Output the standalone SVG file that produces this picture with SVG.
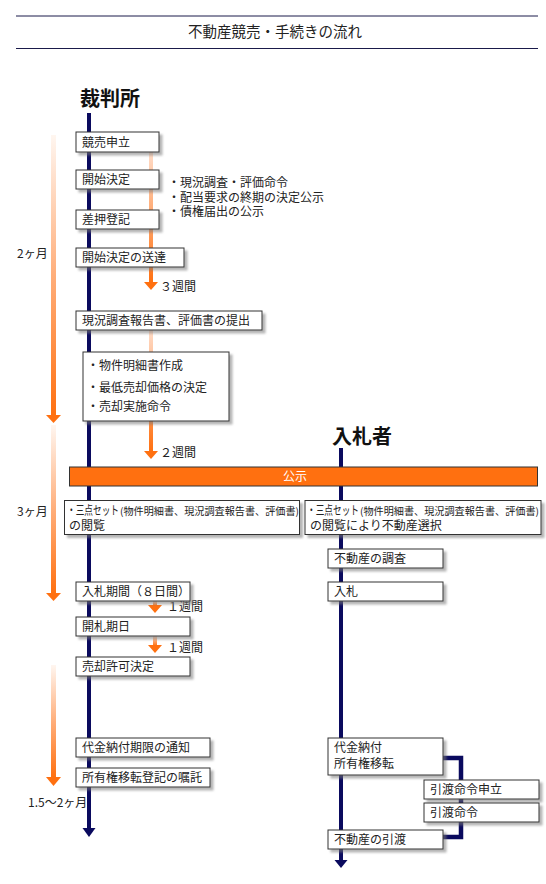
<svg xmlns="http://www.w3.org/2000/svg" width="546" height="884" viewBox="0 0 546 884">
<defs>
<style>
text{font-family:"Noto Sans CJK JP","Noto Sans CJK SC",sans-serif;fill:#222;font-size:12px}
.h{font-size:20px;font-weight:bold;fill:#111}
.t{font-size:14.5px}
.box{fill:#fff;stroke:#333;stroke-width:1;filter:url(#sh)}
.navy{fill:#0a0a5e}
.or{fill:#ff7010}
.sm{font-size:10px}
</style>
<filter id="sh" x="-10%" y="-20%" width="130%" height="160%">
<feDropShadow dx="3" dy="3" stdDeviation="1" flood-color="#777" flood-opacity="0.55"/>
</filter>
<linearGradient id="gl" x1="0" y1="0" x2="0" y2="1">
<stop offset="0" stop-color="#fff6f0"/>
<stop offset="0.5" stop-color="#ffae7a"/>
<stop offset="1" stop-color="#ff7010"/>
</linearGradient>
<linearGradient id="gs" x1="0" y1="0" x2="0" y2="1">
<stop offset="0" stop-color="#ffdcc8"/>
<stop offset="1" stop-color="#ff7010"/>
</linearGradient>
</defs>
<rect width="546" height="884" fill="#fff"/>

<g id="title">
<line x1="16" y1="16" x2="538" y2="16" stroke="#1a1a4a" stroke-width="1"/>
<line x1="16" y1="48.5" x2="538" y2="48.5" stroke="#1a1a4a" stroke-width="1"/>
<text class="t" x="275" y="37" text-anchor="middle">不動産競売・手続きの流れ</text>
</g>

<g id="connectors">
<rect class="navy" x="87" y="113" width="4" height="716"/>
<polygon class="navy" points="82.5,828 95.5,828 89,837"/>
<rect class="navy" x="339" y="448" width="4" height="413"/>
<polygon class="navy" points="334.5,860 347.5,860 341,868"/>
<path d="M443 758 H461 V837 H443" fill="none" stroke="#0a0a5e" stroke-width="4.5"/>
<rect x="51" y="135" width="5" height="281" fill="url(#gl)"/>
<polygon class="or" points="46,415 61,415 53.5,423"/>
<rect x="51" y="425" width="5" height="169" fill="url(#gl)"/>
<polygon class="or" points="46,593 61,593 53.5,601"/>
<rect x="51" y="665" width="5" height="113" fill="url(#gl)"/>
<polygon class="or" points="46,777 61,777 53.5,786"/>
<rect x="149" y="152" width="4" height="131" fill="url(#gs)"/>
<polygon class="or" points="144,282 158,282 151,290"/>
<rect x="149" y="329" width="4" height="123" fill="url(#gs)"/>
<polygon class="or" points="144,451 158,451 151,459"/>
<rect x="153" y="601" width="4" height="5" fill="url(#gs)"/>
<polygon class="or" points="148,605 162,605 155,613"/>
<rect x="153" y="636" width="4" height="10" fill="url(#gs)"/>
<polygon class="or" points="148,645 162,645 155,653"/>
</g>

<g id="labels">
<text class="h" x="80" y="106">裁判所</text>
<text class="h" x="332" y="444">入札者</text>
<text x="17" y="258">2ヶ月</text>
<text x="17" y="516">3ヶ月</text>
<text x="28" y="807">1.5～2ヶ月</text>
<text x="160" y="291">３週間</text>
<text x="160" y="457">２週間</text>
<text x="167" y="611">１週間</text>
<text x="167" y="652">１週間</text>
<text x="168" y="187">・現況調査・評価命令<tspan x="168" y="202">・配当要求の終期の決定公示</tspan><tspan x="168" y="216">・債権届出の公示</tspan></text>
</g>

<g id="n1"><rect class="box" x="76" y="132" width="83" height="20"/><text x="82" y="146.5">競売申立</text></g>
<g id="n2"><rect class="box" x="76" y="170" width="83" height="19"/><text x="82" y="184">開始決定</text></g>
<g id="n3"><rect class="box" x="76" y="210" width="83" height="19"/><text x="82" y="224">差押登記</text></g>
<g id="n4"><rect class="box" x="76" y="248" width="108" height="19"/><text x="82" y="262">開始決定の送達</text></g>
<g id="n5"><rect class="box" x="76" y="311" width="186" height="19"/><text x="82" y="325">現況調査報告書、評価書の提出</text></g>
<g id="n6"><rect class="box" x="83" y="352" width="146" height="69"/>
<text x="87" y="370">・物件明細書作成<tspan x="87" y="392">・最低売却価格の決定</tspan><tspan x="87" y="411">・売却実施命令</tspan></text></g>

<g id="koji"><rect x="69.5" y="467" width="468" height="19" fill="#ff7010" stroke="#333" stroke-width="1"/><text x="295" y="481" text-anchor="middle" style="fill:#fff">公示</text></g>

<g id="n7"><rect class="box" x="64.5" y="500.5" width="235" height="34"/>
<text x="67" y="515"><tspan textLength="52" lengthAdjust="spacingAndGlyphs">・三点セット</tspan><tspan class="sm" x="120" textLength="179" lengthAdjust="spacingAndGlyphs">(物件明細書、現況調査報告書、評価書)</tspan><tspan x="69" y="530">の閲覧</tspan></text></g>
<g id="n8"><rect class="box" x="305" y="500.5" width="236" height="34"/>
<text x="307" y="515"><tspan textLength="52" lengthAdjust="spacingAndGlyphs">・三点セット</tspan><tspan class="sm" x="360" textLength="179" lengthAdjust="spacingAndGlyphs">(物件明細書、現況調査報告書、評価書)</tspan><tspan x="310" y="530">の閲覧により不動産選択</tspan></text></g>

<g id="n9"><rect class="box" x="328" y="549" width="115" height="19"/><text x="334" y="563">不動産の調査</text></g>
<g id="n10"><rect class="box" x="328" y="582" width="115" height="19"/><text x="334" y="596">入札</text></g>
<g id="n11"><rect class="box" x="76" y="582" width="114" height="19"/><text x="82" y="596">入札期間（８日間）</text></g>
<g id="n12"><rect class="box" x="76" y="617" width="114" height="19"/><text x="82" y="631">開札期日</text></g>
<g id="n13"><rect class="box" x="76" y="657" width="114" height="19"/><text x="82" y="671">売却許可決定</text></g>
<g id="n14"><rect class="box" x="76" y="738" width="134" height="19"/><text x="82" y="752">代金納付期限の通知</text></g>
<g id="n15"><rect class="box" x="76" y="768" width="134" height="19"/><text x="82" y="782">所有権移転登記の嘱託</text></g>
<g id="n16"><rect class="box" x="328" y="738" width="115" height="37"/><text x="334" y="752">代金納付<tspan x="334" y="768">所有権移転</tspan></text></g>
<g id="n17"><rect class="box" x="424" y="780" width="115" height="19"/><text x="430" y="794">引渡命令申立</text></g>
<g id="n18"><rect class="box" x="424" y="803" width="115" height="19"/><text x="430" y="817">引渡命令</text></g>
<g id="n19"><rect class="box" x="328" y="830" width="115" height="19"/><text x="334" y="844">不動産の引渡</text></g>
</svg>
